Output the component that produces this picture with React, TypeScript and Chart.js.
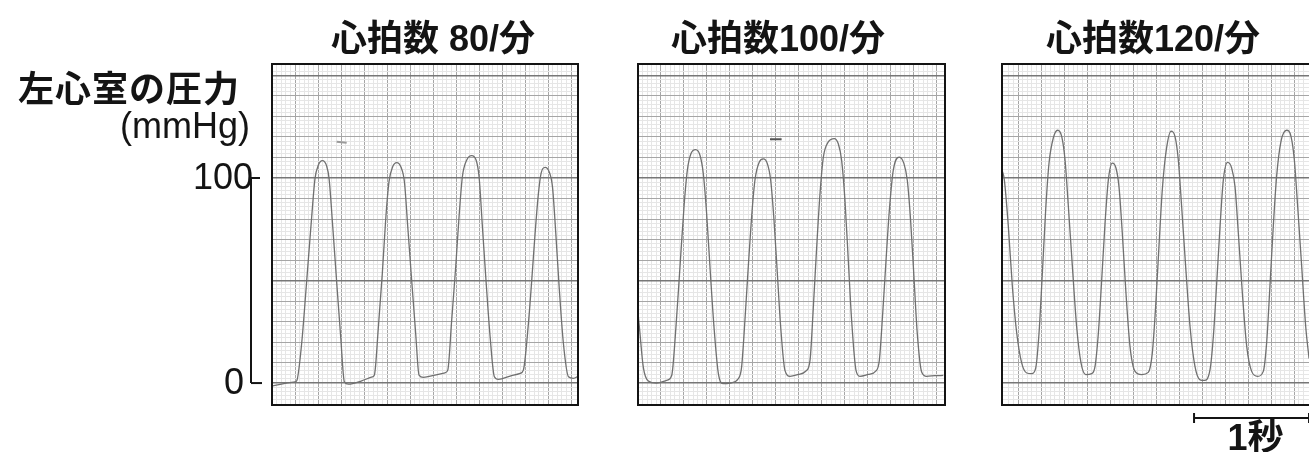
import React, { useEffect, useRef } from "react";
import { Chart, registerables } from "chart.js";

Chart.register(...registerables);

// ---------- text ----------
const TITLES = ["心拍数 80/分", "心拍数100/分", "心拍数120/分"];
const Y_LABEL = "左心室の圧力";
const Y_UNIT = "(mmHg)";
const Y_TICKS = [0, 100];
const TIME_BAR_LABEL = "1秒";

// ---------- scales (mmHg, seconds) ----------
const Y_MIN = -10.7;
const Y_MAX = 155.6;
const Y_MINOR = 2; // mmHg per small square
const X_MINOR = 0.04; // s per small square
const X_RANGES: [number, number][] = [
  [0, 2.66],
  [0, 2.67],
  [0.06, 2.747],
];
const TIME_BAR_START = 1.73;
const TIME_BAR_LENGTH = 1;

// ---------- data: 80 / min ----------
const T1 = [
  0, 0.113, 0.2, 0.215, 0.258, 0.301, 0.345, 0.374, 0.403, 0.438, 0.475, 0.496, 0.528, 0.562, 0.597, 0.629, 0.664, 0.78, 0.872,
  0.89, 0.925, 0.959, 0.988, 1.017, 1.049, 1.084, 1.122, 1.151, 1.18, 1.215, 1.249, 1.278, 1.316, 1.417, 1.504,
  1.528, 1.562, 1.597, 1.626, 1.655, 1.693, 1.736, 1.774, 1.8, 1.829, 1.861, 1.896, 1.933, 1.968, 2.07, 2.157,
  2.185, 2.229, 2.258, 2.287, 2.316, 2.339, 2.374, 2.409, 2.438, 2.467, 2.496, 2.533, 2.577, 2.62, 2.664,
];
const P1 = [
  -1.5, -0.2, 0.6, 1.1, 19.4, 49.4, 81.1, 99.8, 106.3, 108.5, 105.9, 99.8, 76.3, 49.4, 22.6, 0.6, -0.5, 1.1, 3,
  3.9, 27.5, 53.5, 79.5, 98.2, 105.5, 107.5, 105.2, 98.2, 76.3, 49.4, 24.2, 3.9, 2.8, 3.9, 5.0,
  6.3, 30.7, 56.7, 81.1, 100.6, 108.8, 110.9, 108.8, 100.6, 76.3, 49.4, 22.6, 3.1, 1.8, 3.4, 4.7,
  6.3, 29.1, 50.2, 73, 92.5, 102.3, 105.2, 103.1, 95.8, 73, 47, 19.4, 3.1, 2.3, 3.4,
];
const MARK1_T = [0.562, 0.649];
const MARK1_P = [117.7, 117.2];

// ---------- data: 100 / min ----------
const T2 = [
  0, 0.012, 0.046, 0.09, 0.162, 0.249, 0.293, 0.33, 0.365, 0.4, 0.429, 0.461, 0.501, 0.539, 0.568, 0.597, 0.626, 0.661, 0.699, 0.742, 0.8, 0.872,
  0.901, 0.93, 0.959, 0.988, 1.017, 1.055, 1.09, 1.125, 1.154, 1.183, 1.212, 1.241, 1.278, 1.322, 1.394, 1.461,
  1.496, 1.525, 1.554, 1.583, 1.612, 1.655, 1.707, 1.742, 1.771, 1.8, 1.829, 1.858, 1.896, 1.93, 2.003, 2.07,
  2.099, 2.128, 2.157, 2.186, 2.22, 2.272, 2.313, 2.342, 2.371, 2.4, 2.429, 2.467, 2.51, 2.583, 2.655,
];
const P2 = [
  34, 27.3, 7.8, 1, 0, 1.3, 3.7, 27.3, 56.6, 85.9, 103.7, 111.9, 113.8, 111.1, 102.1, 82.6, 56.6, 27.3, 4.6, -0.3, 0, 2.1,
  7.8, 30.6, 56.6, 81, 98.9, 107.8, 109.3, 107, 98.9, 79.3, 53.3, 27.3, 6.2, 3.3, 4.2, 5.9,
  11.1, 37.1, 66.3, 92.4, 110.2, 117.6, 119.2, 116.7, 108.6, 89.1, 59.8, 30.6, 6.2, 3.3, 4.2, 5.9,
  11.1, 33.8, 59.8, 84.2, 103.7, 110.2, 107, 98.9, 79.3, 51.7, 24.1, 5.4, 3.3, 3.6, 3.7,
];
const MARK2_T = [1.148, 1.249];
const MARK2_P = [118.9, 118.9];

// ---------- data: 120 / min ----------
const T3 = [
  0.06, 0.08, 0.115, 0.15, 0.188, 0.231, 0.275, 0.318, 0.353,
  0.382, 0.411, 0.44, 0.469, 0.506, 0.544, 0.579, 0.608, 0.637, 0.672, 0.709, 0.747, 0.788, 0.84, 0.869,
  0.898, 0.927, 0.956, 0.985, 1.019, 1.051, 1.077, 1.106, 1.138, 1.173, 1.217, 1.275, 1.332,
  1.367, 1.396, 1.425, 1.454, 1.489, 1.53, 1.564, 1.593, 1.622, 1.657, 1.695, 1.738, 1.782, 1.819, 1.869,
  1.898, 1.927, 1.956, 1.985, 2.022, 2.057, 2.086, 2.115, 2.15, 2.188, 2.231, 2.283, 2.332,
  2.361, 2.39, 2.419, 2.448, 2.486, 2.535, 2.573, 2.602, 2.631, 2.666, 2.701, 2.73,
];
const P3 = [
  104, 99.2, 76.4, 47.2, 24.4, 9.8, 4.9, 4.6, 7.3,
  24.4, 53.7, 84.6, 107.3, 119.5, 123.3, 120.3, 108.9, 86.2, 56.9, 27.6, 9.8, 4.1, 4.6, 8.1,
  24.4, 50.4, 78, 99.2, 107.3, 104.9, 95.9, 73.2, 43.9, 17.9, 5.7, 4.1, 5.2,
  14.6, 37.4, 66.7, 94.3, 113.8, 122.8, 120.3, 108.9, 86.2, 56.9, 27.6, 8.1, 1.6, 1.3, 6.5,
  22.8, 48.8, 76.4, 99.2, 107.6, 104.9, 95.9, 73.2, 43.9, 17.9, 5.7, 3.3, 5.7,
  19.5, 47.2, 76.4, 100.8, 117.9, 123.3, 120.3, 108.9, 86.2, 56.9, 27.6, 12,
];

// ---------- styling / layout ----------
const FONT = "'Liberation Sans', 'Noto Sans CJK JP', 'Noto Sans CJK SC', sans-serif";
const INK = "#141414";
const TRACE = "#707070";
const GRID_MINOR = "#e6e6e6";
const GRID_MAJOR = "#a6a6a6";
const GRID_BOLD = "#777777";
const W = 1309;
const H = 452;

type Layout = { left: number; width: number; padLeft: number; padRight: number; titleCenter: number };
const LAYOUTS: Layout[] = [
  { left: 0, width: 590, padLeft: 272, padRight: 12, titleCenter: 433 },
  { left: 600, width: 360, padLeft: 38, padRight: 15, titleCenter: 778 },
  { left: 990, width: 330, padLeft: 12, padRight: 9, titleCenter: 1153 },
];
const PAD_TOP = 64;
const PAD_BOTTOM = H - 405;

const zip = (t: number[], p: number[]) => t.map((x, i) => ({ x, y: p[i] }));

const multipleIndex = (v: number, step: number): number | null => {
  const k = Math.round(v / step);
  return Math.abs(k * step - v) < 1e-6 ? k : null;
};

const xGridColor = (ctx: any) => {
  const v = ctx.tick ? ctx.tick.value : NaN;
  const k = multipleIndex(v, X_MINOR);
  if (k === null) return "rgba(0,0,0,0)";
  return k % 5 === 0 ? GRID_MAJOR : GRID_MINOR;
};
const yGridColor = (ctx: any) => {
  const v = ctx.tick ? ctx.tick.value : NaN;
  const k = multipleIndex(v, Y_MINOR);
  if (k === null) return "rgba(0,0,0,0)";
  if (k % 25 === 0) return GRID_BOLD;
  return k % 5 === 0 ? GRID_MAJOR : GRID_MINOR;
};
const yGridWidth = (ctx: any) => {
  const v = ctx.tick ? ctx.tick.value : NaN;
  const k = multipleIndex(v, Y_MINOR);
  return k !== null && k % 25 === 0 ? 1.6 : 1;
};

const decorPlugin = {
  id: "decor",
  afterDraw(chart: any, _args: any, opts: any) {
    const { ctx, chartArea: a, scales } = chart;
    ctx.save();
    ctx.strokeStyle = INK;
    ctx.lineWidth = 2;
    ctx.strokeRect(a.left, a.top, a.right - a.left, a.bottom - a.top);

    if (opts && opts.axis) {
      const y = scales.y;
      const ax = a.left - 21;
      const yTop = y.getPixelForValue(Math.max(...Y_TICKS));
      const yBot = y.getPixelForValue(Math.min(...Y_TICKS));
      ctx.lineWidth = 2;
      ctx.beginPath();
      ctx.moveTo(ax, yTop);
      ctx.lineTo(ax, yBot);
      ctx.stroke();
      ctx.font = `36px ${FONT}`;
      ctx.fillStyle = INK;
      ctx.textAlign = "right";
      ctx.textBaseline = "middle";
      Y_TICKS.forEach((v) => {
        const py = y.getPixelForValue(v);
        ctx.beginPath();
        ctx.moveTo(ax, py);
        ctx.lineTo(ax + (v === 0 ? 11 : 9), py);
        ctx.stroke();
        ctx.fillText(String(v), ax + (v === 0 ? -7 : 2), py + 1);
      });
    }

    if (opts && opts.bar) {
      const x = scales.x;
      const x1 = x.getPixelForValue(TIME_BAR_START);
      const x2 = x.getPixelForValue(TIME_BAR_START + TIME_BAR_LENGTH);
      const by = a.bottom + 13;
      ctx.lineWidth = 2;
      ctx.beginPath();
      ctx.moveTo(x1, by);
      ctx.lineTo(x2, by);
      ctx.moveTo(x1, by - 5);
      ctx.lineTo(x1, by + 5);
      ctx.moveTo(x2, by - 5);
      ctx.lineTo(x2, by + 5);
      ctx.stroke();
      ctx.font = `bold 36px ${FONT}`;
      ctx.fillStyle = INK;
      ctx.textAlign = "center";
      ctx.textBaseline = "middle";
      ctx.fillText(TIME_BAR_LABEL, (x1 + x2) / 2 + 4, by + 22);
    }
    ctx.restore();
  },
};

const SERIES = [
  { t: T1, p: P1, markT: MARK1_T, markP: MARK1_P, markColor: "#9a9a9a" },
  { t: T2, p: P2, markT: MARK2_T, markP: MARK2_P, markColor: "#555555" },
  { t: T3, p: P3, markT: [] as number[], markP: [] as number[], markColor: "#555555" },
];

function makeChart(canvas: HTMLCanvasElement, i: number) {
  const L = LAYOUTS[i];
  const s = SERIES[i];
  const [xMin, xMax] = X_RANGES[i];
  return new Chart(canvas, {
    type: "line",
    data: {
      datasets: [
        {
          data: zip(s.t, s.p),
          borderColor: TRACE,
          borderWidth: 1.3,
          pointRadius: 0,
          cubicInterpolationMode: "monotone",
          fill: false,
        },
        {
          data: zip(s.markT, s.markP),
          borderColor: s.markColor,
          borderWidth: 2,
          pointRadius: 0,
          fill: false,
        },
      ],
    },
    options: {
      animation: false,
      responsive: false,
      maintainAspectRatio: false,
      devicePixelRatio: 1,
      events: [],
      layout: { padding: { left: L.padLeft, right: L.padRight, top: PAD_TOP, bottom: PAD_BOTTOM } },
      plugins: {
        legend: { display: false },
        tooltip: { enabled: false },
        title: { display: false },
        decor: { axis: i === 0, bar: i === 2 },
      } as any,
      scales: {
        x: {
          type: "linear",
          min: xMin,
          max: xMax,
          border: { display: false },
          ticks: { display: false, stepSize: X_MINOR, autoSkip: false },
          grid: { drawTicks: false, color: xGridColor, lineWidth: 1 },
        },
        y: {
          type: "linear",
          min: Y_MIN,
          max: Y_MAX,
          border: { display: false },
          ticks: { display: false, stepSize: Y_MINOR, autoSkip: false },
          grid: { drawTicks: false, color: yGridColor, lineWidth: yGridWidth },
        },
      },
    },
    plugins: [decorPlugin as any],
  });
}

export default function App() {
  const r0 = useRef<HTMLCanvasElement>(null);
  const r1 = useRef<HTMLCanvasElement>(null);
  const r2 = useRef<HTMLCanvasElement>(null);
  const refs = [r0, r1, r2];

  useEffect(() => {
    const charts = refs.map((r, i) => makeChart(r.current as HTMLCanvasElement, i));
    return () => charts.forEach((c) => c.destroy());
  }, []);

  const textBase: React.CSSProperties = {
    position: "absolute",
    fontFamily: FONT,
    fontSize: 36,
    lineHeight: "36px",
    color: INK,
    whiteSpace: "nowrap",
  };

  return (
    <div
      style={{
        position: "fixed",
        left: 0,
        top: 0,
        width: W,
        height: H,
        overflow: "hidden",
        background: "#ffffff",
      }}
    >
      {LAYOUTS.map((L, i) => (
        <canvas
          key={i}
          ref={refs[i]}
          width={L.width}
          height={H}
          style={{ position: "absolute", left: L.left, top: 0, width: L.width, height: H }}
        />
      ))}
      {LAYOUTS.map((L, i) => (
        <div
          key={"t" + i}
          style={{ ...textBase, fontWeight: "bold", left: L.titleCenter - 200, width: 400, top: 21, textAlign: "center" }}
        >
          {TITLES[i]}
        </div>
      ))}
      <div style={{ ...textBase, fontWeight: "bold", left: 18, top: 72, letterSpacing: 1 }}>{Y_LABEL}</div>
      <div style={{ ...textBase, left: 50, width: 200, top: 108, textAlign: "right" }}>{Y_UNIT}</div>
    </div>
  );
}
